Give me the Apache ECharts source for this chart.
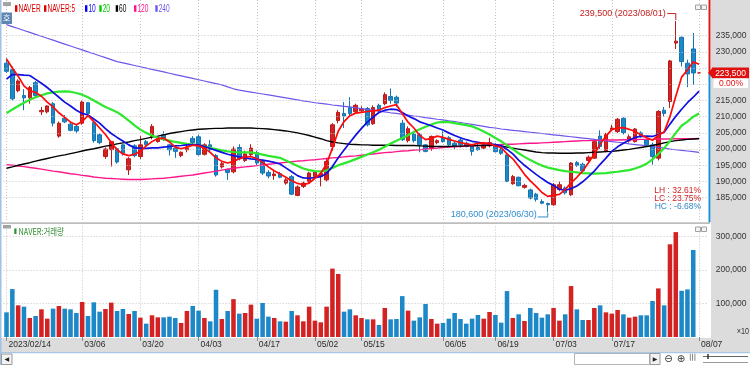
<!DOCTYPE html>
<html>
<head>
<meta charset="utf-8">
<script src="https://cdn.jsdelivr.net/npm/echarts@6.0.0/dist/echarts.min.js"></script>
<style>
html,body{margin:0;padding:0;background:#ffffff;overflow:hidden}
#chart{width:750px;height:365px}
</style>
</head>
<body>
<div id="chart"></div>
<script>
// ---------------- data ----------------
const dates = [
'2023/02/14','2023/02/15','2023/02/16','2023/02/17','2023/02/20','2023/02/21','2023/02/22','2023/02/23','2023/02/24','2023/02/27','2023/02/28',
'2023/03/02','2023/03/03','2023/03/06','2023/03/07','2023/03/08','2023/03/09','2023/03/10','2023/03/13','2023/03/14','2023/03/15','2023/03/16','2023/03/17','2023/03/20','2023/03/21','2023/03/22','2023/03/23','2023/03/24','2023/03/27','2023/03/28','2023/03/29','2023/03/30','2023/03/31',
'2023/04/03','2023/04/04','2023/04/05','2023/04/06','2023/04/07','2023/04/10','2023/04/11','2023/04/12','2023/04/13','2023/04/14','2023/04/17','2023/04/18','2023/04/19','2023/04/20','2023/04/21','2023/04/24','2023/04/25','2023/04/26','2023/04/27','2023/04/28',
'2023/05/02','2023/05/03','2023/05/04','2023/05/08','2023/05/09','2023/05/10','2023/05/11','2023/05/12','2023/05/15','2023/05/16','2023/05/17','2023/05/18','2023/05/19','2023/05/22','2023/05/23','2023/05/24','2023/05/25','2023/05/26','2023/05/30','2023/05/31',
'2023/06/01','2023/06/02','2023/06/05','2023/06/07','2023/06/08','2023/06/09','2023/06/12','2023/06/13','2023/06/14','2023/06/15','2023/06/16','2023/06/19','2023/06/20','2023/06/21','2023/06/22','2023/06/23','2023/06/26','2023/06/27','2023/06/28','2023/06/29','2023/06/30',
'2023/07/03','2023/07/04','2023/07/05','2023/07/06','2023/07/07','2023/07/10','2023/07/11','2023/07/12','2023/07/13','2023/07/14','2023/07/17','2023/07/18','2023/07/19','2023/07/20','2023/07/21','2023/07/24','2023/07/25','2023/07/26','2023/07/27','2023/07/28','2023/07/31',
'2023/08/01','2023/08/02','2023/08/03','2023/08/04','2023/08/07'
];
const tickDates  = ['2023/02/14','2023/03/06','2023/03/20','2023/04/03','2023/04/17','2023/05/02','2023/05/15','2023/06/05','2023/06/19','2023/07/03','2023/07/17','2023/08/07'];
const tickLabels = ['2023/02/14','03/06','03/20','04/03','04/17','05/02','05/15','06/05','06/19','07/03','07/17','08/07'];
const priceGrid  = [185000,190000,195000,200000,205000,210000,215000,220000,225000,230000,235000];
const priceTicks = [185000,190000,195000,200000,205000,210000,215000,230000,235000];
const volumeTicks = [100000,200000,300000];

const opens = [
226500,224500,218000,216500,215800,220500,211500,211500,214000,204000,
209500,207700,207000,208000,214300,208200,204400,197700,199800,200100,
201300,193600,201000,197700,202300,203900,202300,204500,201300,200300,
198000,199800,203300,203800,198400,201300,198000,194500,193700,193000,
200500,196500,198300,198900,196200,192800,191800,192400,189500,191500,
185700,188500,190000,191500,191500,190500,200800,208800,211000,212800,
211500,211800,212500,207800,213500,214000,216200,216000,208000,202600,
204600,204400,201300,200300,202000,203400,203500,201800,202800,201800,
200800,200500,200300,201000,201300,200000,198200,189300,191300,188200,
187400,186100,183800,183200,182800,187500,188000,185900,195800,195300,
196500,197200,204000,199300,206000,205400,209500,202500,202300,205000,
202900,201300,197200,212000,214700,232700,234500,226500,230900,223500];
const closes = [
224000,215500,221000,215800,219000,216500,211900,213300,208000,208000,
208400,205800,205600,214500,211000,202600,202000,200000,202300,196000,
198700,197000,198000,201300,201300,207000,203500,203300,199800,199300,
199000,200300,202000,198300,201300,199800,192000,195500,192800,200000,
197000,198500,200300,195700,192600,191700,192300,191300,190500,186100,
188300,189500,192600,193000,192500,196200,207500,211300,210200,211000,
213500,212500,207500,212800,212000,216800,215000,214200,202900,206300,
202600,201300,199300,203900,202600,202300,201300,200800,201300,200800,
199300,199800,201300,202000,199200,198700,190000,191500,188700,188800,
184900,184500,183300,182800,189000,189000,186500,195700,195000,193300,
197500,202300,200800,204400,206500,209200,205100,203800,206200,204000,
201300,197700,211600,211000,227200,233300,227000,223200,223500,223500];
const lows = [
223500,215000,217500,212000,214000,216000,210500,211000,207000,203500,
208000,205500,205000,207500,210500,202000,201500,197000,194600,195500,
198000,192000,197500,197000,200500,203000,202000,202500,198000,197300,
197500,199000,201500,198000,198000,199000,191500,194000,190500,192500,
196500,196000,197500,195000,192000,191000,190500,191000,189000,185800,
185500,188000,189500,191000,188500,190000,199500,208000,206500,210500,
211000,211500,207000,207500,211500,213500,214000,213000,202500,202000,
202000,199000,199000,199500,201500,202000,201000,200000,200500,200500,
198000,199500,200000,200500,199000,198200,189800,189000,188500,187800,
184500,183800,183000,180600,182500,187000,186000,185500,194500,193000,
196000,197000,200000,199000,205500,205000,204500,202000,202000,203500,
201000,195200,196500,210000,212700,230900,225500,219100,219800,223500];
const highs = [
228000,225500,221500,218500,219500,221000,213000,213500,214500,208500,
210500,208000,207500,215000,214500,208500,204800,200500,202500,200500,
201500,197500,201500,204000,202800,207700,204000,205500,201500,200500,
199300,201500,204000,204500,201800,202800,198500,196000,194000,200800,
201500,199500,201500,199500,196500,193500,193500,193000,191000,192000,
188800,190000,193000,193500,193000,197000,208000,212000,214500,216000,
214000,213200,213000,213500,214000,217500,218700,216500,209000,207000,
205000,205000,201500,204200,203000,205500,204000,202500,203500,202300,
201500,202000,202000,203500,201800,200300,198500,192000,191500,189300,
187800,186500,184500,183500,189500,190000,188500,196000,196300,195800,
198000,202500,205800,205000,207500,209600,209800,204500,206500,205500,
203200,202000,212000,213000,227500,239500,234700,227600,235800,223500];
const volumes = [
73600,143000,94500,90500,56700,62700,82600,54700,84600,92500,
84600,82600,71600,104500,62700,103500,75600,83600,102500,77600,
83600,68700,77600,57700,39800,64700,58700,58700,60700,56700,
41800,77600,92500,78600,56700,46800,141000,53700,77600,113000,
69700,71600,96500,54700,101500,60700,56700,46800,45800,77600,
64700,46800,90500,48800,43800,90500,204000,188000,75600,82600,
64700,56700,52700,52700,35800,86600,52700,53700,122000,78600,
48800,58700,98500,53700,39800,41800,54700,71600,53700,39800,
54700,65700,54700,74600,65700,42800,137000,56700,67700,47800,
86600,71600,57700,67700,86600,48800,67700,152000,82600,50700,
50700,86600,94500,73600,69700,80600,67700,57700,60700,64700,
64700,107500,145000,94500,276600,313000,138000,142000,259700,0];
const ma5 = [
227800,225000,222500,219500,218000,217500,216300,214500,213000,211200,
209800,208300,207500,208500,210300,208500,206500,204500,202000,199800,
198500,198000,198400,199300,201000,202300,203300,203400,202200,200600,
200100,200600,201200,201000,200300,199000,197300,196200,195700,196200,
197000,197600,197700,197000,195900,194500,193300,192300,191300,190200,
189400,189000,189500,191000,192500,195500,200300,205500,208500,210300,
211100,211300,211600,211800,212000,212800,213300,213700,211000,208300,
206500,204200,202900,203300,204000,203600,203000,202500,202000,201600,
201300,201800,201900,201600,201000,200500,198500,197000,194700,192200,
190200,188500,186600,185400,185700,186000,187500,189600,191300,193200,
195800,198500,201500,204000,206000,206500,206600,206100,205400,204400,
203500,202700,204300,205300,210000,216300,222200,224400,226900,226200];
const ma10 = [
221600,223000,223000,222800,222700,221500,220300,219000,217500,216000,
214500,213300,212000,211000,210500,209300,208000,206300,204800,203600,
202500,201300,200400,200200,200200,200400,200400,200600,200800,201000,
201100,201300,201400,201300,200800,200200,199600,199000,198400,198000,
197600,197300,197000,196800,196600,196300,195900,195400,194200,193000,
191800,191100,191000,191200,191500,192500,194600,197300,199700,202000,
204300,206400,208300,209900,211300,212000,212300,212200,211300,210200,
209400,208400,207800,207200,206500,205900,205000,204200,203500,202900,
202400,202100,201800,201600,201400,201000,199900,198500,196600,195000,
193600,192200,190900,189700,188800,187600,187300,187800,188600,189900,
191500,193200,195300,197200,199300,200700,201800,202800,203600,203900,
204000,203900,204500,205200,207700,210100,212300,214300,216000,217900];
const ma20 = [
211100,212200,213300,214300,215200,216000,216600,217200,217500,217700,
217800,217700,217300,216800,216000,215000,214000,213000,212200,211400,
210200,208800,207300,206000,205000,204200,203500,203000,202600,202200,
201900,201600,201400,201200,200800,200400,200000,199600,199300,199100,
199000,199000,199000,198700,198300,197900,197600,197300,196500,195600,
194800,194000,193500,193200,193100,193400,194200,195000,195600,196200,
196900,197600,198300,199000,199800,200700,201700,202600,203400,204300,
205300,206100,206900,207600,208200,208400,208300,208000,207700,207400,
207000,206300,205400,204500,203400,202400,201200,200000,198700,197600,
196600,195700,194900,194300,193900,193500,193200,193000,192800,192600,
192500,192400,192500,192600,192800,193000,193300,193500,194000,194600,
195500,196800,198500,200300,202500,205000,207200,208500,210000,211000];
const ma60 = [
194100,194500,195000,195400,195800,196300,196700,197100,197500,197900,
198200,198600,199000,199400,199800,200100,200500,200900,201200,201600,
201900,202200,202600,202900,203300,203700,204000,204400,204800,205100,
205400,205700,205900,206100,206200,206300,206400,206400,206500,206500,
206500,206500,206500,206400,206300,206200,206000,205800,205600,205300,
205000,204600,204200,203700,203200,202600,202200,201900,201700,201500,
201400,201300,201300,201200,201200,201200,201200,201100,201100,201100,
201100,201000,200900,200800,200800,200800,200800,200900,200900,201000,
201000,201100,201100,201200,201200,201000,200600,200300,200000,199700,
199400,199100,198900,198800,198800,198700,198700,198700,198800,198800,
198900,199000,199100,199200,199300,199500,199700,199900,200200,200500,
200800,201100,201500,201900,202300,202600,202800,203000,203100,203200];
const ma120 = [
195200,195000,194800,194600,194300,194100,193800,193500,193200,193000,
192700,192400,192200,191900,191700,191400,191200,191000,190900,190800,
190700,190600,190600,190600,190700,190800,190900,191000,191200,191400,
191600,191800,192000,192300,192600,192900,193200,193500,193800,194100,
194300,194500,194700,194900,195100,195300,195500,195700,195900,196100,
196300,196400,196600,196700,196900,197100,197300,197400,197600,197800,
197900,198100,198300,198500,198700,198900,199000,199200,199400,199500,
199700,199800,200000,200200,200300,200500,200600,200700,200800,200900,
201000,201100,201200,201200,201300,201400,201500,201500,201600,201700,
201800,201800,201900,202000,202100,202200,202300,202400,202500,202600,
202600,202700,202700,202800,202800,202800,202900,202900,202900,203000,
203000,203000,203100,203100,203100,203200,203200,203200,203200,203300];
const ma240 = [
238400,237800,237200,236600,236000,235400,234800,234200,233600,233000,
232400,231800,231200,230600,230000,229400,228800,228200,227600,227000,
226600,226200,225800,225400,225000,224600,224200,223800,223400,223000,
222600,222200,221800,221400,221000,220600,220200,219800,219200,218600,
218200,217900,217600,217300,217000,216700,216400,216100,215800,215500,
215200,214900,214600,214300,214100,213900,213600,213400,213200,213000,
212700,212500,212200,212000,211700,211500,211200,211000,210700,210500,
210200,210000,209700,209500,209200,209000,208700,208500,208200,207900,
207600,207300,207000,206700,206500,206200,206000,205800,205600,205400,
205200,205000,204800,204600,204400,204200,204000,203800,203600,203400,
203200,203000,202700,202500,202300,202100,201900,201600,201400,201200,
201000,200800,200500,200300,200000,199800,199600,199400,199200,199000];

// ---------------- chart ----------------
const FONT = "'Liberation Sans',Arial,sans-serif";
const KFONT = "'Noto Sans CJK KR','Noto Sans CJK SC',sans-serif";
const UP = '#d42222', DOWN = '#1c88c8';
const fmt = v => Math.round(v).toLocaleString('en-US');

const cats = dates.concat(['']);            // one empty slot at the right edge
const tickIdx = new Set(tickDates.map(d => dates.indexOf(d)));
const showTick = (i) => tickIdx.has(i);

const candleData = dates.map((d, i) => [opens[i], closes[i], lows[i], highs[i]]);
const volData = volumes.map((v, i) => ({
  value: v,
  itemStyle: { color: closes[i] > opens[i] || (closes[i] === opens[i] && i > 0 && closes[i] >= closes[i-1]) ? UP : DOWN }
}));

const chart = echarts.init(document.getElementById('chart'), null, { renderer: 'canvas', width: 750, height: 365 });

const gridLeft = 3.6, gridW = 704.2;
const dotted = { color: '#c4c4c4', type: [1, 2], width: 1 };

const maDefs = [
  { name: '240', data: ma240, color: '#6f57ea', w: 1.2 },
  { name: '120', data: ma120, color: '#ff178c', w: 1.4 },
  { name: '60',  data: ma60,  color: '#000000', w: 1.4 },
  { name: '20',  data: ma20,  color: '#2ee82e', w: 2.2 },
  { name: '10',  data: ma10,  color: '#1010e0', w: 1.7 },
  { name: 'NAVER:5', data: ma5, color: '#ff0a0a', w: 1.7 }
];

const option = {
  animation: false,
  backgroundColor: '#ffffff',
  grid: [
    { left: gridLeft, top: 0, width: gridW, height: 222, containLabel: false, outerBoundsMode: 'none' },
    { left: gridLeft, top: 226.4, width: gridW, height: 110.6, containLabel: false, outerBoundsMode: 'none' }
  ],
  xAxis: [
    {
      type: 'category', gridIndex: 0, data: cats, boundaryGap: true,
      axisLine: { show: false }, axisTick: { show: false }, axisLabel: { show: false },
      splitLine: { show: true, interval: showTick, alignWithLabel: true, lineStyle: dotted }
    },
    {
      type: 'category', gridIndex: 1, data: cats, boundaryGap: true,
      axisLine: { show: false },
      axisTick: { show: true, interval: showTick, alignWithLabel: true, length: 4, lineStyle: { color: '#8a8a8a' } },
      axisLabel: {
        show: true, interval: showTick, align: 'left', padding: [0, 0, 0, 2], margin: 3,
        color: '#2a2a2a', fontSize: 8.5, fontFamily: FONT,
        formatter: (v) => { const k = tickDates.indexOf(v); return k >= 0 ? tickLabels[k] : ''; }
      },
      splitLine: { show: true, interval: showTick, alignWithLabel: true, lineStyle: dotted }
    }
  ],
  yAxis: [
    {
      type: 'value', gridIndex: 0, position: 'right', min: 177500, max: 246000, interval: 2500,
      axisLine: { show: false }, axisTick: { show: false },
      axisLabel: { margin: 8, color: '#333', fontSize: 8.5, fontFamily: FONT,
        formatter: v => priceTicks.indexOf(v) >= 0 ? fmt(v) : '' },
      splitLine: { show: false }
    },
    {
      type: 'value', gridIndex: 1, position: 'right', min: 0, max: 330000, interval: 100000,
      axisLine: { show: false }, axisTick: { show: false },
      axisLabel: { margin: 8, color: '#333', fontSize: 8.5, fontFamily: FONT,
        formatter: v => volumeTicks.indexOf(v) >= 0 ? fmt(v) : '' },
      splitLine: { show: true, showMinLine: false, showMaxLine: false, lineStyle: dotted }
    }
  ],
  series: [
    {
      name: 'grid', type: 'line', xAxisIndex: 0, yAxisIndex: 0, data: [], z: 1, silent: true,
      markLine: { silent: true, symbol: ['none', 'none'], label: { show: false }, animation: false,
        lineStyle: dotted, data: priceGrid.map(v => ({ yAxis: v })) }
    },
    {
      name: 'NAVER', type: 'candlestick', xAxisIndex: 0, yAxisIndex: 0, data: candleData,
      barWidth: 4, z: 2,
      itemStyle: { color: UP, color0: DOWN, borderColor: '#b81a1a', borderColor0: '#1474b0', borderWidth: 1 }
    }
  ].concat(maDefs.map((m, k) => ({
    name: m.name, type: 'line', xAxisIndex: 0, yAxisIndex: 0, data: m.data,
    showSymbol: false, symbol: 'none', silent: true, z: 3 + k,
    lineStyle: { color: m.color, width: m.w }, itemStyle: { color: m.color }
  }))).concat([
    {
      name: 'NAVER:거래량', type: 'bar', xAxisIndex: 1, yAxisIndex: 1, data: volData,
      barWidth: '78%', z: 2
    }
  ])
};
chart.setOption(option);

// ---------------- decorations computed from the scales ----------------
const P = (i, v) => chart.convertToPixel({ gridIndex: 0 }, [i, v]);
const lastIdx = dates.length - 1;
let hiIdx = 0, loIdx = 0;
highs.forEach((h, i) => { if (h > highs[hiIdx]) hiIdx = i; });
lows.forEach((l, i) => { if (l < lows[loIdx]) loIdx = i; });
const H = highs[hiIdx], L = lows[loIdx], C = closes[lastIdx], PC = closes[lastIdx - 1];
const hp = P(hiIdx, H), lp = P(loIdx, L);
const cy = chart.convertToPixel({ yAxisIndex: 0 }, C);
const axisX = 709.5;

// text helper: sx = horizontal squeeze (the original uses a narrow bitmap font)
const txt = (text, x, y, fill, size, align, sx, family) => ({
  type: 'text', z: 100, silent: true, x, y, scaleX: sx || 1,
  style: { text, x: 0, y: 0, fill, font: (size || 8.5) + 'px ' + (family || FONT), textAlign: align || 'left', textVerticalAlign: 'middle' }
});
const rect = (x, y, w, h, fill, stroke, z) => ({ type: 'rect', z: z === undefined ? 50 : z, silent: true,
  shape: { x, y, width: w, height: h }, style: { fill, stroke: stroke || null, lineWidth: 1 } });
const line = (x1, y1, x2, y2, stroke, w, z) => ({ type: 'line', z: z || 60, silent: true,
  shape: { x1, y1, x2, y2 }, style: { stroke, lineWidth: w || 1 } });

const els = [];
// panel backgrounds / frame
els.push(rect(711, 0, 39, 338, '#dcdcdc', null, -10));
els.push(rect(0, 338, 750, 14, '#dcdcdc', null, -10));
els.push(rect(0, 222.3, 710, 1.6, '#bdbdbd', null, 40));
els.push(rect(0, 352, 750, 1.2, '#a8c7e6', null, 40));
els.push(rect(0, 0, 1.5, 365, '#9fc1e3', null, 40));
// top-left icons
els.push(rect(3, 2, 8, 4, '#a3a3a3', null, 60));
els.push(rect(3, 225, 8, 3.5, '#a3a3a3', null, 60));
els.push(rect(1.5, 12.5, 10.5, 11.5, '#5f86b2', null, 60));
els.push(txt('호', 6.8, 18.4, '#ffffff', 8, 'center', 1, KFONT));
// top-right panel buttons
[5, 227].forEach(yy => {
  els.push(rect(695.5, yy, 5, 4.5, '#f4f4f4', '#a0a0a0', 60));
  els.push(rect(701.5, yy, 5, 4.5, '#f4f4f4', '#a0a0a0', 60));
});
// legend (main panel)
const legendColors = { 'NAVER': '#e00000', 'NAVER:5': '#e00000', '10': '#0000ff', '20': '#00c800', '60': '#000000', '120': '#ff1493', '240': '#6f57ea' };
const legendX = [15, 44, 85, 99.3, 115.7, 134, 155.3];
['NAVER', 'NAVER:5', '10', '20', '60', '120', '240'].forEach((name, k) => {
  const c = legendColors[name], x = legendX[k];
  els.push(rect(x, 5.2, 2.4, 6.6, c, null, 60));
  els.push(txt(name, x + 3.4, 8.8, c, 10, 'left', 0.66));
});
// legend (volume panel)
els.push(rect(14.3, 228.5, 2.2, 5.5, '#2e8b2e', null, 60));
els.push(txt('NAVER:거래량', 18.5, 231.6, '#2e8b2e', 9, 'left', 0.82, KFONT));
// x10 unit
els.push(txt('×10', 749, 331.5, '#333', 8.5, 'right', 0.85));

// high / low annotations
const hiText = fmt(H) + ' (' + dates[hiIdx] + ')';
const loText = fmt(L) + ' (' + dates[loIdx] + ')';
els.push(txt(hiText, hp[0] - 10, hp[1] - 7.2, '#c42020', 9, 'right'));
els.push({ type: 'polyline', z: 60, silent: true, shape: { points: [[hp[0] - 8.5, hp[1] - 7.5], [hp[0], hp[1] - 7.5], [hp[0], hp[1] - 1]] }, style: { stroke: '#c42020', lineWidth: 1, fill: null } });
els.push(txt(loText, lp[0] - 11, lp[1] + 3, '#2f8fd0', 9, 'right'));
els.push({ type: 'polyline', z: 60, silent: true, shape: { points: [[lp[0] - 10, lp[1] + 5], [lp[0], lp[1] + 5], [lp[0], lp[1] + 0.5]] }, style: { stroke: '#2f8fd0', lineWidth: 1, fill: null } });

// LH / LC / HC statistics
const pct = (a, b) => ((a - b) / b * 100).toFixed(2) + '%';
els.push(txt('LH : ' + pct(H, L), 701, 191, '#d02020', 8.5, 'right'));
els.push(txt('LC : ' + pct(C, L), 701, 198.6, '#d02020', 8.5, 'right'));
els.push(txt('HC : ' + pct(C, H), 701, 206.2, '#2f86c8', 8.5, 'right'));

// price axis line: red above the last price, blue below
els.push(line(axisX, 0, axisX, cy, '#e01818', 2, 70));
els.push(line(axisX, cy, axisX, 222.3, '#1f8fd6', 2, 70));
// last price marker
els.push({ type: 'polygon', z: 80, silent: true, shape: { points: [[708, cy], [712.5, cy - 5.2], [712.5, cy + 5.2]] }, style: { fill: '#e01010' } });
els.push(rect(712, cy - 5.4, 37, 10.8, '#e01010', null, 80));
els.push(txt(fmt(C), 730.5, cy + 0.3, '#ffffff', 8.5, 'center'));
els.push(rect(713.5, cy + 5.6, 34.5, 9.6, '#ffffff', null, 80));
els.push(txt(((C - PC) / PC * 100).toFixed(2) + '%', 731, cy + 10.6, '#e01010', 8.5, 'center'));

// bottom scroll strip
els.push(rect(1.5, 354, 10.5, 10.5, '#f2f2f2', '#9a9a9a', 60));
els.push(txt('◀', 6.8, 359.3, '#222', 6, 'center', 1, 'DejaVu Sans'));
els.push(rect(574.5, 353.5, 75, 11, '#ffffff', '#b4b4b4', 60));
els.push(rect(650, 353.5, 10, 11, '#f2f2f2', '#9a9a9a', 60));
els.push(txt('▶', 655, 359.3, '#222', 6, 'center', 1, 'DejaVu Sans'));
els.push(txt('⊖', 668.5, 359, '#333', 10, 'center', 1, 'DejaVu Sans'));
els.push(txt('⊕', 681, 359, '#333', 10, 'center', 1, 'DejaVu Sans'));
els.push(txt('|||', 692.5, 357.5, '#333', 7, 'center', 1, 'DejaVu Sans'));
els.push(line(703, 356.5, 748, 356.5, '#666', 1, 60));
els.push(line(708, 354, 708, 359, '#333', 1.5, 60));
els.push(line(703, 362.5, 748, 362.5, '#999', 1, 60));

chart.setOption({ graphic: { elements: els } });
</script>
</body>
</html>
